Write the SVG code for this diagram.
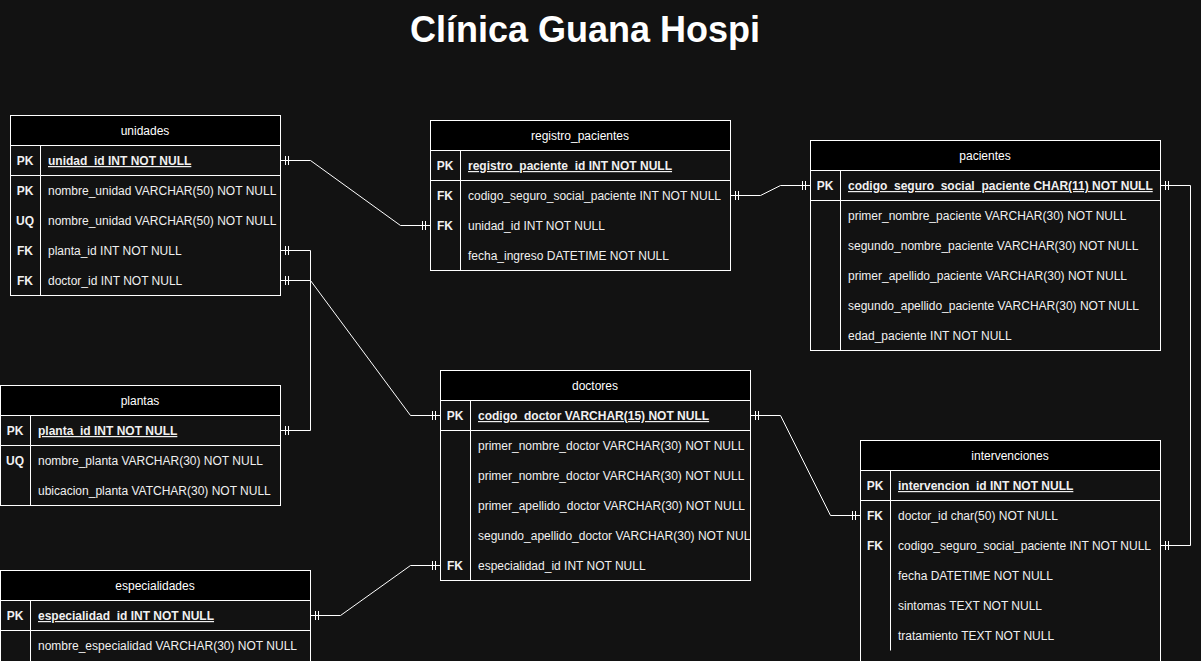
<svg xmlns="http://www.w3.org/2000/svg" width="1201" height="661" viewBox="0 0 1201 661">
<defs>
<style>
.tbl{fill:#121212;stroke:#ffffff;stroke-width:1}
.hdr{fill:#000000;stroke:#ffffff;stroke-width:1}
.ln{stroke:#ffffff;stroke-width:1;fill:none}
.t{font-family:"Liberation Sans",Arial,Helvetica,sans-serif;font-size:12px;fill:#f0f0f0}
.h{font-family:"Liberation Sans",Arial,Helvetica,sans-serif;font-size:12px;fill:#ffffff;text-anchor:middle}
.k{font-family:"Liberation Sans",Arial,Helvetica,sans-serif;font-size:12px;font-weight:bold;fill:#f0f0f0;text-anchor:middle}
.pk{font-weight:bold;text-decoration:underline}
.title{font-family:"Liberation Sans",Arial,Helvetica,sans-serif;font-size:36px;font-weight:bold;fill:#ffffff;text-anchor:middle}
.conn{stroke:#ffffff;stroke-width:1;fill:none;marker-start:url(#one);marker-end:url(#one)}
</style>
<marker id="one" markerUnits="userSpaceOnUse" markerWidth="10" markerHeight="10" viewBox="0 0 10 10" refX="10" refY="5" orient="auto-start-reverse">
<path d="M5,0.5 V9.5 M2,0.5 V9.5" stroke="#ffffff" stroke-width="1" fill="none"/>
</marker>
<clipPath id="clipDoc"><rect x="440" y="370" width="310" height="210"/></clipPath>
</defs>
<rect x="0" y="0" width="1201" height="661" fill="#121212"/>
<text class="title" x="585" y="42">Clínica Guana Hospi</text>

<g id="connectors">
<path class="conn" d="M280.5,160.5 H310.5 L400.5,225.5 H430.5"/>
<path class="conn" d="M730.5,195.5 H760.5 L780.5,185.5 H810.5"/>
<path class="conn" d="M280.5,250.5 H310.5 V430.5 H280.5"/>
<path class="conn" d="M280.5,280.5 H310.5 L410.5,415.5 H440.5"/>
<path class="conn" d="M310.5,615.5 H340.5 L410.5,565.5 H440.5"/>
<path class="conn" d="M750.5,415.5 H780.5 L830.5,515.5 H860.5"/>
<path class="conn" d="M1160.5,185.5 H1190.5 V545.5 H1160.5"/>
</g>

<g id="unidades">
<rect class="tbl" x="10.5" y="115.5" width="270" height="180"/>
<rect class="hdr" x="10.5" y="115.5" width="270" height="30"/>
<line class="ln" x1="40.5" y1="145.5" x2="40.5" y2="295.5"/>
<line class="ln" x1="10.5" y1="175.5" x2="280.5" y2="175.5"/>
<text class="h" x="145" y="135">unidades</text>
<text class="k" x="25" y="165">PK</text><text class="t pk" x="48" y="165">unidad_id INT NOT NULL</text>
<text class="k" x="25" y="195">PK</text><text class="t" x="48" y="195">nombre_unidad VARCHAR(50) NOT NULL</text>
<text class="k" x="25" y="225">UQ</text><text class="t" x="48" y="225">nombre_unidad VARCHAR(50) NOT NULL</text>
<text class="k" x="25" y="255">FK</text><text class="t" x="48" y="255">planta_id INT NOT NULL</text>
<text class="k" x="25" y="285">FK</text><text class="t" x="48" y="285">doctor_id INT NOT NULL</text>
</g>

<g id="registro_pacientes">
<rect class="tbl" x="430.5" y="120.5" width="300" height="150"/>
<rect class="hdr" x="430.5" y="120.5" width="300" height="30"/>
<line class="ln" x1="460.5" y1="150.5" x2="460.5" y2="270.5"/>
<line class="ln" x1="430.5" y1="180.5" x2="730.5" y2="180.5"/>
<text class="h" x="580" y="140">registro_pacientes</text>
<text class="k" x="445" y="170">PK</text><text class="t pk" x="468" y="170">registro_paciente_id INT NOT NULL</text>
<text class="k" x="445" y="200">FK</text><text class="t" x="468" y="200">codigo_seguro_social_paciente INT NOT NULL</text>
<text class="k" x="445" y="230">FK</text><text class="t" x="468" y="230">unidad_id INT NOT NULL</text>
<text class="t" x="468" y="260">fecha_ingreso DATETIME NOT NULL</text>
</g>

<g id="pacientes">
<rect class="tbl" x="810.5" y="140.5" width="350" height="210"/>
<rect class="hdr" x="810.5" y="140.5" width="350" height="30"/>
<line class="ln" x1="840.5" y1="170.5" x2="840.5" y2="350.5"/>
<line class="ln" x1="810.5" y1="200.5" x2="1160.5" y2="200.5"/>
<text class="h" x="985" y="160">pacientes</text>
<text class="k" x="825" y="190">PK</text><text class="t pk" x="848" y="190">codigo_seguro_social_paciente CHAR(11) NOT NULL</text>
<text class="t" x="848" y="220">primer_nombre_paciente VARCHAR(30) NOT NULL</text>
<text class="t" x="848" y="250">segundo_nombre_paciente VARCHAR(30) NOT NULL</text>
<text class="t" x="848" y="280">primer_apellido_paciente VARCHAR(30) NOT NULL</text>
<text class="t" x="848" y="310">segundo_apellido_paciente VARCHAR(30) NOT NULL</text>
<text class="t" x="848" y="340">edad_paciente INT NOT NULL</text>
</g>

<g id="plantas">
<rect class="tbl" x="0.5" y="385.5" width="280" height="120"/>
<rect class="hdr" x="0.5" y="385.5" width="280" height="30"/>
<line class="ln" x1="30.5" y1="415.5" x2="30.5" y2="505.5"/>
<line class="ln" x1="0.5" y1="445.5" x2="280.5" y2="445.5"/>
<text class="h" x="140" y="405">plantas</text>
<text class="k" x="15" y="435">PK</text><text class="t pk" x="38" y="435">planta_id INT NOT NULL</text>
<text class="k" x="15" y="465">UQ</text><text class="t" x="38" y="465">nombre_planta VARCHAR(30) NOT NULL</text>
<text class="t" x="38" y="495">ubicacion_planta VATCHAR(30) NOT NULL</text>
</g>

<g id="doctores">
<rect class="tbl" x="440.5" y="370.5" width="310" height="210"/>
<rect class="hdr" x="440.5" y="370.5" width="310" height="30"/>
<line class="ln" x1="470.5" y1="400.5" x2="470.5" y2="580.5"/>
<line class="ln" x1="440.5" y1="430.5" x2="750.5" y2="430.5"/>
<text class="h" x="595" y="390">doctores</text>
<text class="k" x="455" y="420">PK</text><text class="t pk" x="478" y="420">codigo_doctor VARCHAR(15) NOT NULL</text>
<text class="t" x="478" y="450">primer_nombre_doctor VARCHAR(30) NOT NULL</text>
<text class="t" x="478" y="480">primer_nombre_doctor VARCHAR(30) NOT NULL</text>
<text class="t" x="478" y="510">primer_apellido_doctor VARCHAR(30) NOT NULL</text>
<text class="t" x="478" y="540" clip-path="url(#clipDoc)">segundo_apellido_doctor VARCHAR(30) NOT NULL</text>
<text class="k" x="455" y="570">FK</text><text class="t" x="478" y="570">especialidad_id INT NOT NULL</text>
</g>

<g id="intervenciones">
<rect class="tbl" x="860.5" y="440.5" width="300" height="240"/>
<rect class="hdr" x="860.5" y="440.5" width="300" height="30"/>
<line class="ln" x1="890.5" y1="470.5" x2="890.5" y2="650.5"/>
<line class="ln" x1="860.5" y1="500.5" x2="1160.5" y2="500.5"/>
<text class="h" x="1010" y="460">intervenciones</text>
<text class="k" x="875" y="490">PK</text><text class="t pk" x="898" y="490">intervencion_id INT NOT NULL</text>
<text class="k" x="875" y="520">FK</text><text class="t" x="898" y="520">doctor_id char(50) NOT NULL</text>
<text class="k" x="875" y="550">FK</text><text class="t" x="898" y="550">codigo_seguro_social_paciente INT NOT NULL</text>
<text class="t" x="898" y="580">fecha DATETIME NOT NULL</text>
<text class="t" x="898" y="610">sintomas TEXT NOT NULL</text>
<text class="t" x="898" y="640">tratamiento TEXT NOT NULL</text>
</g>

<g id="especialidades">
<rect class="tbl" x="0.5" y="570.5" width="310" height="120"/>
<rect class="hdr" x="0.5" y="570.5" width="310" height="30"/>
<line class="ln" x1="30.5" y1="600.5" x2="30.5" y2="690.5"/>
<line class="ln" x1="0.5" y1="630.5" x2="310.5" y2="630.5"/>
<text class="h" x="155" y="590">especialidades</text>
<text class="k" x="15" y="620">PK</text><text class="t pk" x="38" y="620">especialidad_id INT NOT NULL</text>
<text class="t" x="38" y="650">nombre_especialidad VARCHAR(30) NOT NULL</text>
</g>
</svg>
